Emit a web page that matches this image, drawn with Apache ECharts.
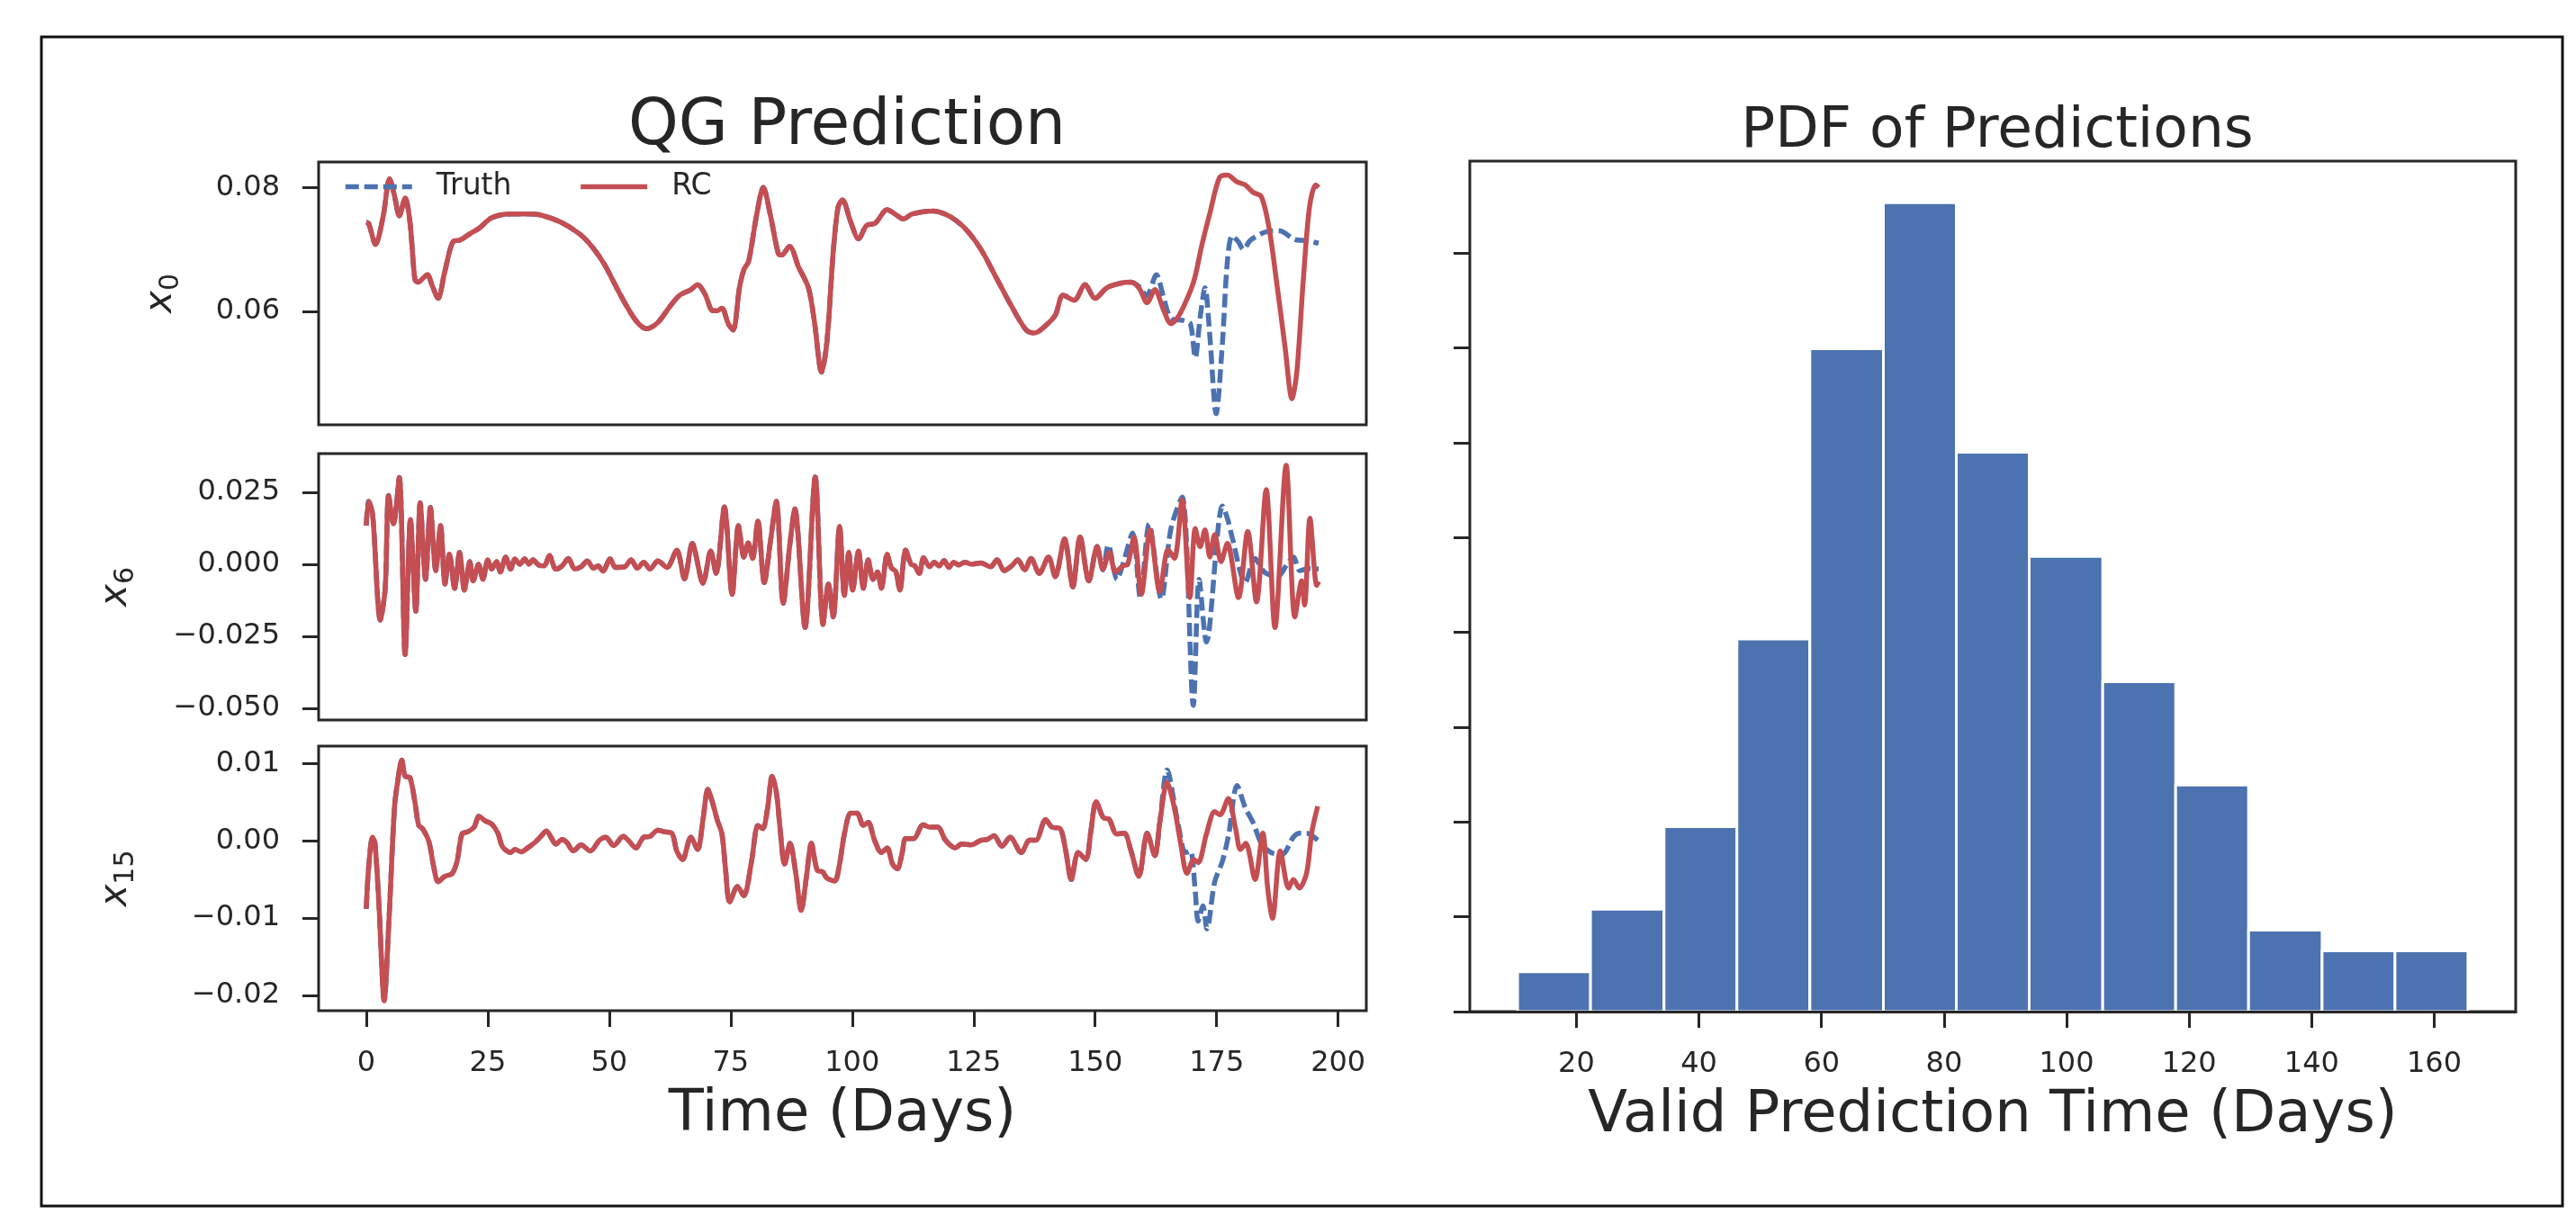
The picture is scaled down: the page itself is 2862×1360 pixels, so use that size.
<!DOCTYPE html>
<html>
<head>
<meta charset="utf-8">
<title>QG Prediction</title>
<script src="https://cdn.jsdelivr.net/npm/echarts@6/dist/echarts.min.js"></script>
<style>
  html, body { margin: 0; padding: 0; background: #fff; }
  #chart { width: 2862px; height: 1360px; }
</style>
</head>
<body>
<div id="chart"></div>
<script>
// 数据：[天, 值]，前段 Truth 与 RC 重合，后段分开
const x0Shared = [
  [0, 0.0744], [0.5, 0.0742], [1.9, 0.0708], [3.5, 0.0754], [4.8, 0.0814], [5.8, 0.0787],
  [6.8, 0.0754], [8.0, 0.0783], [9.0, 0.0744], [10.0, 0.0652], [10.6, 0.0647], [12.6, 0.0659],
  [13.5, 0.0643], [14.8, 0.0621], [16.1, 0.0662], [17.9, 0.0713], [19.3, 0.0715], [21.3, 0.0725],
  [23.2, 0.0734], [25.8, 0.0751], [29.7, 0.0757], [33.5, 0.0757], [36.1, 0.0755], [40.0, 0.0744],
  [43.9, 0.0725], [46.4, 0.0705], [49.0, 0.0676], [52.2, 0.0628], [55.5, 0.0585], [57.7, 0.0572],
  [60.0, 0.0582], [62.6, 0.0609], [64.5, 0.0626], [66.8, 0.0635], [68.2, 0.0643], [69.7, 0.0628],
  [71.3, 0.0601], [72.2, 0.0601], [73.2, 0.0605], [74.5, 0.0580], [75.5, 0.0570], [76.8, 0.0638],
  [77.7, 0.0667], [78.7, 0.0681], [80.3, 0.0754], [81.7, 0.0800], [83.2, 0.0754], [84.8, 0.0693],
  [85.5, 0.0691], [87.1, 0.0705], [89.0, 0.0671], [91.0, 0.0638], [92.2, 0.0585], [93.7, 0.0502],
  [94.8, 0.0551], [96.1, 0.0696], [97.1, 0.0768], [98.0, 0.0780], [99.7, 0.0744], [101.3, 0.0717],
  [103.0, 0.0739], [104.7, 0.0742], [107.2, 0.0764], [109.0, 0.0756], [110.5, 0.0749], [112.3, 0.0757],
  [116.6, 0.0762], [119.9, 0.0754], [123.2, 0.0734], [126.5, 0.0700], [129.8, 0.0652], [133.1, 0.0604],
  [135.8, 0.0570], [137.5, 0.0565], [139.8, 0.0577], [141.8, 0.0594], [143.4, 0.0626], [145.7, 0.0618],
  [147.9, 0.0643], [150.0, 0.0621], [152.4, 0.0638], [155.0, 0.0645], [157.3, 0.0647]
]
const x0TruthTail = [
  [159.0, 0.0640], [160.6, 0.0625], [162.6, 0.0659], [164.0, 0.0625], [165.6, 0.0589], [168.3, 0.0585],
  [169.6, 0.0580], [170.6, 0.0525], [171.6, 0.0590], [172.6, 0.0638], [173.6, 0.0560], [174.9, 0.0435],
  [176.2, 0.0550], [177.2, 0.0680], [178.2, 0.0722], [179.5, 0.0712], [180.5, 0.0700], [182.0, 0.0715],
  [185.5, 0.0729], [188.0, 0.0730], [191.0, 0.0716], [193.5, 0.0714], [196.0, 0.0710]
]
const x0RcTail = [
  [159.0, 0.0638], [160.7, 0.0614], [162.3, 0.0635], [164.0, 0.0604], [165.6, 0.0580], [167.3, 0.0594],
  [169.6, 0.0633], [170.6, 0.0657], [171.9, 0.0705], [173.6, 0.0758], [175.6, 0.0816], [177.2, 0.0820],
  [179.2, 0.0809], [180.9, 0.0804], [182.5, 0.0792], [184.2, 0.0785], [185.8, 0.0734], [187.5, 0.0638],
  [189.1, 0.0541], [190.5, 0.0459], [191.5, 0.0502], [192.8, 0.0647], [194.1, 0.0768], [195.4, 0.0804],
  [196.0, 0.0800]
]

const x6Shared = [
  [0, 0.0134], [0.5, 0.0218], [1.3, 0.0176], [2.9, -0.0194], [3.9, -0.0084], [4.6, 0.0239],
  [5.6, 0.0140], [6.8, 0.0301], [8.0, -0.0314], [9.1, 0.0155], [10.2, -0.0163], [11.1, 0.0213],
  [12.2, -0.0053], [13.2, 0.0197], [14.3, -0.0022], [15.3, 0.0134], [16.2, -0.0069], [17.1, 0.0035],
  [18.2, -0.0084], [19.2, 0.0041], [20.2, -0.0090], [21.3, 0.0009], [22.0, -0.0058], [23.1, 0.0],
  [24.0, -0.0053], [25.0, 0.0015], [25.8, -0.0017], [26.8, 0.0009], [27.6, -0.0027], [28.7, 0.0025],
  [29.7, -0.0017], [30.6, 0.0018], [31.6, 0.0], [32.6, 0.0018], [33.5, 0.0], [34.3, 0.0015],
  [35.5, -0.0003], [36.6, -0.0006], [37.7, 0.0030], [39.0, -0.0017], [40.3, -0.0006], [41.6, 0.0020],
  [42.9, -0.0017], [44.2, -0.0009], [45.5, 0.0011], [46.8, -0.0014], [47.7, -0.0006], [48.7, -0.0024],
  [50.2, 0.0018], [51.3, -0.0011], [53.2, -0.0009], [54.5, 0.0015], [55.8, -0.0014], [57.1, 0.0007],
  [58.4, -0.0017], [60.0, 0.0011], [61.9, -0.0011], [63.9, 0.0049], [65.5, -0.0051], [67.1, 0.0072],
  [69.3, -0.0066], [70.9, 0.0046], [72.0, -0.0032], [73.7, 0.0199], [75.3, -0.0105], [76.6, 0.0134],
  [77.7, 0.0025], [78.6, 0.0074], [79.5, 0.0020], [80.6, 0.0150], [81.9, -0.0064], [83.2, 0.0082],
  [84.4, 0.0218], [85.8, -0.0136], [87.2, 0.0072], [88.2, 0.0192], [90.3, -0.0220], [92.4, 0.0303],
  [94.0, -0.0209], [95.1, -0.0069], [96.1, -0.0183], [97.4, 0.0132], [98.4, -0.0108], [99.3, 0.0041],
  [100.1, -0.0090], [101.3, 0.0046], [102.3, -0.0084], [103.3, 0.0015], [104.3, -0.0053], [105.2, -0.0027],
  [106.0, -0.0084], [107.2, 0.0035], [108.0, -0.0011], [109.0, -0.0027], [109.8, -0.0090], [111.0, 0.0049],
  [112.1, 0.0], [112.9, -0.0006], [113.8, -0.0032], [114.7, 0.0022], [115.9, -0.0009], [116.9, 0.0007],
  [117.9, -0.0006], [118.9, 0.0013], [119.9, -0.0011], [120.9, 0.0007], [121.9, -0.0003], [123.2, 0.0007],
  [124.5, 0.0], [126.5, 0.0004], [128.5, -0.0009], [129.8, 0.0015], [131.3, -0.0022], [132.8, -0.0006],
  [134.1, 0.0015], [135.5, -0.0020], [136.8, 0.0020], [138.5, -0.0032], [140.4, 0.0025], [141.8, -0.0043],
  [143.7, 0.0088], [145.4, -0.0079], [146.9, 0.0095], [148.7, -0.0058], [150.4, 0.0061]
]
const x6TruthTail = [
  [151.6, -0.0020], [152.7, 0.0067], [154.5, -0.0053], [155.8, 0.0005], [157.7, 0.0108], [159.3, -0.0116],
  [161.1, 0.0140], [163.6, -0.0121], [165.6, 0.0124], [167.9, 0.0233], [170.2, -0.0490], [171.4, -0.0053],
  [172.9, -0.0270], [176.2, 0.0202], [177.2, 0.0160], [178.2, 0.0093], [180.9, -0.0064], [182.9, 0.0020],
  [184.8, -0.0027], [187.5, -0.0043], [189.5, 0.0], [190.8, 0.0025], [192.1, -0.0022], [194.1, -0.0015],
  [196.0, -0.0017]
]
const x6RcTail = [
  [151.6, -0.0017], [152.9, 0.0041], [154.2, -0.0027], [155.7, -0.0006], [156.7, 0.0], [158.0, 0.0093],
  [159.5, -0.0105], [161.3, 0.0119], [163.3, -0.0095], [165.0, 0.0051], [166.3, 0.0020], [167.9, 0.0223],
  [169.5, -0.0116], [170.6, 0.0124], [171.6, 0.0061], [172.6, 0.0119], [173.6, 0.0025], [174.6, 0.0103],
  [175.9, 0.0009], [177.2, 0.0072], [179.5, -0.0116], [181.4, 0.0114], [183.2, -0.0131], [185.2, 0.0259],
  [187.0, -0.0220], [189.3, 0.0343], [191.1, -0.0183], [192.5, -0.0058], [193.1, -0.0142], [194.2, 0.0160],
  [195.6, -0.0074], [196.0, -0.0060]
]

const x15Shared = [
  [0, -0.0088], [0.5, -0.0034], [1.3, 0.0005], [1.8, -0.0003], [2.6, -0.0081], [3.7, -0.0207],
  [4.6, -0.0112], [5.8, 0.0043], [6.4, 0.0074], [7.3, 0.0105], [8.0, 0.0084], [9.0, 0.0082],
  [10.0, 0.0051], [10.8, 0.0020], [11.6, 0.0016], [12.9, -0.0001], [13.9, -0.0034], [14.8, -0.0053],
  [16.1, -0.0046], [17.7, -0.0042], [18.7, -0.0026], [19.7, 0.0009], [20.9, 0.0012], [22.2, 0.0018],
  [23.2, 0.0032], [24.5, 0.0026], [25.8, 0.0022], [27.1, 0.0010], [28.0, -0.0007], [29.7, -0.0015],
  [30.6, -0.0011], [31.9, -0.0014], [33.2, -0.0009], [34.5, -0.0003], [35.8, 0.0005], [37.1, 0.0013],
  [38.0, 0.0005], [39.0, -0.0004], [40.3, 0.0002], [41.3, -0.0002], [42.6, -0.0013], [44.2, -0.0005],
  [46.1, -0.0013], [48.0, 0.0001], [49.3, 0.0005], [50.9, -0.0006], [52.9, 0.0006], [53.9, 0.0001],
  [55.5, -0.0009], [57.1, 0.0005], [58.4, 0.0006], [60.0, 0.0014], [61.3, 0.0012], [62.9, 0.0010],
  [63.9, -0.0013], [65.1, -0.0024], [66.8, 0.0005], [68.2, -0.0011], [69.3, 0.0028], [70.3, 0.0067],
  [71.3, 0.0049], [72.2, 0.0028], [73.2, 0.0009], [73.9, -0.0034], [74.8, -0.0079], [76.4, -0.0059],
  [77.7, -0.0071], [79.3, -0.0026], [80.6, 0.0020], [81.6, 0.0016], [82.6, 0.0043], [83.5, 0.0084],
  [84.4, 0.0063], [85.1, 0.0020], [86.1, -0.0030], [87.2, -0.0003], [88.4, -0.0042], [89.5, -0.0090],
  [90.6, -0.0046], [91.6, -0.0003], [92.8, -0.0038], [93.9, -0.0040], [94.8, -0.0048], [96.4, -0.0052],
  [97.4, -0.0030], [98.4, 0.0009], [99.7, 0.0036], [101.0, 0.0036], [102.3, 0.0020], [103.3, 0.0024],
  [104.6, 0.0001], [106.0, -0.0015], [107.2, -0.0009], [108.3, -0.0030], [109.3, -0.0036], [110.3, -0.0015],
  [111.0, 0.0003], [112.6, 0.0003], [114.6, 0.0021], [115.9, 0.0018], [117.6, 0.0018], [119.2, 0.0001],
  [121.2, -0.0009], [122.5, -0.0004], [124.5, -0.0005], [126.5, 0.0001], [127.8, 0.0002], [129.2, 0.0007],
  [130.8, -0.0007], [132.5, 0.0005], [134.8, -0.0015], [136.5, 0.0001], [137.8, 0.0001], [139.8, 0.0028],
  [141.1, 0.0018], [142.8, 0.0016], [143.9, -0.0011], [145.1, -0.0050], [146.5, -0.0015], [148.1, -0.0024],
  [149.1, 0.0012], [150.2, 0.0051], [151.7, 0.0030], [152.9, 0.0028], [154.4, 0.0009], [156.0, 0.0010],
  [157.3, -0.0011], [159.0, -0.0046], [160.7, 0.0010], [162.3, -0.0019], [163.3, 0.0024]
]
const x15TruthTail = [
  [164.8, 0.0092], [166.9, 0.0028], [168.6, -0.0015], [169.6, -0.0013], [170.6, -0.0065], [171.2, -0.0104],
  [172.2, -0.0084], [173.0, -0.0114], [174.6, -0.0053], [176.2, -0.0026], [177.5, 0.0009], [179.2, 0.0072],
  [180.9, 0.0043], [182.5, 0.0024], [184.2, -0.0003], [186.2, -0.0015], [188.5, -0.0017], [190.8, 0.0005],
  [192.1, 0.0010], [193.5, 0.0010], [195.8, 0.0001]
]
const x15RcTail = [
  [164.8, 0.0076], [166.3, 0.0043], [167.6, -0.0003], [168.9, -0.0042], [170.3, -0.0024], [171.2, -0.0028],
  [172.9, 0.0009], [174.6, 0.0038], [175.7, 0.0034], [177.4, 0.0055], [178.9, 0.0016], [179.9, -0.0011],
  [181.0, -0.0003], [182.9, -0.0050], [184.5, 0.0010], [185.5, -0.0061], [186.5, -0.0100], [188.1, -0.0013],
  [189.8, -0.0061], [190.8, -0.0050], [192.0, -0.0061], [193.5, -0.0042], [194.6, 0.0012], [195.8, 0.0045]
]

// 直方图：分箱边界与密度
const binEdges = [10.4, 22.3, 34.3, 46.2, 58.1, 70.1, 82.0, 93.9, 105.9, 117.8, 129.7, 141.7, 153.6, 165.5]
const binDensity = [0.00084, 0.00216, 0.0039, 0.00786, 0.01398, 0.01706, 0.0118, 0.0096, 0.00696,
  0.00478, 0.00172, 0.00128, 0.00128]

// 刻度
const timeTicks = [0, 25, 50, 75, 100, 125, 150, 175, 200]
const x0Ticks = [0.06, 0.08]
const x6Ticks = [-0.05, -0.025, 0, 0.025]
const x15Ticks = [-0.02, -0.01, 0, 0.01]
const vptTicks = [20, 40, 60, 80, 100, 120, 140, 160]
const pdfTicks = [0, 0.002, 0.004, 0.006, 0.008, 0.01, 0.012, 0.014, 0.016]

const FONT = 'DejaVu Sans'
const INK = '#262626'
const BLUE = '#4c72b0'
const RED = '#c44e52'
const LW = 5.5

const minus = s => s.replace('-', '\u2212')

// 面板位置
const panels = [
  { left: 354, top: 180, width: 1164, height: 292 },
  { left: 354, top: 504, width: 1164, height: 296 },
  { left: 354, top: 829, width: 1164, height: 294 },
  { left: 1633, top: 179, width: 1162, height: 945 }
]

let grids = panels.map(p => Object.assign({
  show: true, borderColor: INK, borderWidth: 3, backgroundColor: '#fff', containLabel: false
}, p))

let tickStyle = (show, vals) => ({
  show: show, customValues: vals, length: 18, inside: false,
  lineStyle: { color: INK, width: 3 }
})

let labelStyle = (show, vals, fmt) => ({
  show: show, customValues: vals, formatter: fmt, margin: 43,
  color: INK, fontFamily: FONT, fontSize: 32
})

let nameFont = { color: INK, fontFamily: FONT, fontSize: 64 }

let timeAxis = (idx, showLabels) => ({
  type: 'value', gridIndex: idx, min: -9.8, max: 205.8,
  axisLine: { show: false, onZero: false }, splitLine: { show: false },
  axisTick: tickStyle(showLabels, timeTicks),
  axisLabel: labelStyle(showLabels, timeTicks, v => String(v)),
  name: showLabels ? 'Time (Days)' : '', nameLocation: 'middle', nameGap: 84,
  nameTextStyle: nameFont
})

let subName = (sub, gap) => ({
  name: '{x|x}{s|' + sub + '}', nameLocation: 'middle', nameRotate: 90, nameGap: gap,
  nameTextStyle: {
    rich: {
      x: { fontFamily: FONT, fontStyle: 'italic', fontSize: 42, color: INK, lineHeight: 50 },
      s: { fontFamily: FONT, fontSize: 30, color: INK, lineHeight: 50, padding: [22, 0, 0, 0] }
    }
  }
})

let valueAxis = (idx, min, max, ticks, fmt, sub, gap) => Object.assign({
  type: 'value', gridIndex: idx, min: min, max: max,
  axisLine: { show: false, onZero: false }, splitLine: { show: false },
  axisTick: tickStyle(true, ticks),
  axisLabel: labelStyle(true, ticks, fmt)
}, subName(sub, gap))

let lineSeries = (name, idx, data, color, dashed) => ({
  name: name, type: 'line', xAxisIndex: idx, yAxisIndex: idx,
  data: data, symbol: 'none', showSymbol: false, smooth: 0.3,
  lineStyle: { color: color, width: LW, type: dashed ? [15, 6] : 'solid' },
  itemStyle: { color: color },
  z: dashed ? 2 : 3
})

let histData = binDensity.map((d, i) => [binEdges[i], binEdges[i + 1], d])

let chart = echarts.init(document.getElementById('chart'))

chart.setOption({
  animation: false,
  backgroundColor: '#fff',
  title: [
    { text: 'QG Prediction', left: 936, top: 101, textAlign: 'center',
      textStyle: { fontFamily: FONT, fontSize: 71, fontWeight: 'normal', color: INK } },
    { text: 'PDF of Predictions', left: 2214, top: 110, textAlign: 'center',
      textStyle: { fontFamily: FONT, fontSize: 63, fontWeight: 'normal', color: INK } }
  ],
  legend: {
    data: ['Truth', 'RC'], left: 376, top: 186, orient: 'horizontal',
    itemWidth: 74, itemHeight: 30, itemGap: 74,
    itemStyle: { opacity: 0 },
    lineStyle: { width: LW },
    textStyle: { fontFamily: FONT, fontSize: 33, color: INK, padding: [0, 0, 0, 22] }
  },
  grid: grids,
  xAxis: [
    timeAxis(0, false),
    timeAxis(1, false),
    timeAxis(2, true),
    {
      type: 'value', gridIndex: 3, min: 2.6, max: 173.3,
      axisLine: { show: true, onZero: false, lineStyle: { color: INK, width: 3 } }, z: 5,
      splitLine: { show: false },
      axisTick: tickStyle(true, vptTicks),
      axisLabel: labelStyle(true, vptTicks, v => String(v)),
      name: 'Valid Prediction Time (Days)', nameLocation: 'middle', nameGap: 84,
      nameTextStyle: nameFont
    }
  ],
  yAxis: [
    valueAxis(0, 0.0417, 0.0841, x0Ticks, v => v.toFixed(2), '0', 150),
    valueAxis(1, -0.0541, 0.0384, x6Ticks, v => minus(v.toFixed(3)), '6', 200),
    valueAxis(2, -0.022, 0.0123, x15Ticks, v => minus(v.toFixed(2)), '15', 200),
    {
      type: 'value', gridIndex: 3, min: 0, max: 0.01794,
      axisLine: { show: false, onZero: false }, splitLine: { show: false },
      axisTick: tickStyle(true, pdfTicks),
      axisLabel: { show: false }
    }
  ],
  series: [
    lineSeries('Truth', 0, x0Shared.concat(x0TruthTail), BLUE, true),
    lineSeries('RC', 0, x0Shared.concat(x0RcTail), RED, false),
    lineSeries('Truth', 1, x6Shared.concat(x6TruthTail), BLUE, true),
    lineSeries('RC', 1, x6Shared.concat(x6RcTail), RED, false),
    lineSeries('Truth', 2, x15Shared.concat(x15TruthTail), BLUE, true),
    lineSeries('RC', 2, x15Shared.concat(x15RcTail), RED, false),
    {
      type: 'custom', xAxisIndex: 3, yAxisIndex: 3, data: histData,
      encode: { x: [0, 1], y: 2 },
      renderItem: (params, api) => {
        let p0 = api.coord([api.value(0), api.value(2)])
        let p1 = api.coord([api.value(1), 0])
        return {
          type: 'rect',
          shape: { x: p0[0], y: p0[1], width: p1[0] - p0[0], height: p1[1] - p0[1] },
          style: { fill: BLUE, stroke: '#fff', lineWidth: 3 }
        }
      }
    }
  ],
  // 外框
  graphic: [{
    type: 'rect', shape: { x: 46, y: 41, width: 2801, height: 1299 },
    style: { fill: null, stroke: '#111', lineWidth: 3 }, silent: true, z: 100
  }]
})
</script>
</body>
</html>
